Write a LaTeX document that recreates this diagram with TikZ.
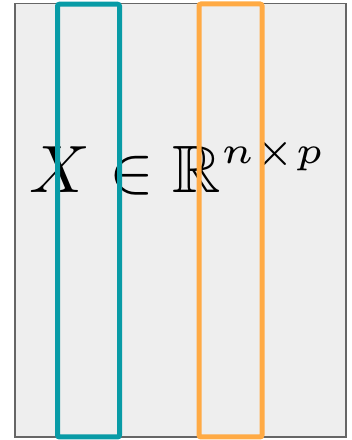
\documentclass[tikz,border=0pt]{standalone}
\usepackage{amsmath}
\usepackage{amssymb}
\usepackage{graphicx}
\usepackage{xcolor}
\usetikzlibrary{positioning}

\definecolor{colteal}{HTML}{089BA6}
\definecolor{colorange}{HTML}{FFAA44}
\definecolor{matfill}{HTML}{EEEEEE}
\definecolor{matline}{HTML}{666666}

\begin{document}
\begin{tikzpicture}[x=1pt, y=1pt,
    matrixbox/.style={draw=matline, fill=matfill, line width=1.5pt},
    colbox/.style={line width=5pt, rounded corners=2pt}
]
    \useasboundingbox (0,0) rectangle (352,440);
    \draw[matrixbox] (15,3) rectangle (346,436.5);
    \node[anchor=base west, inner sep=0pt, scale=6.7] (eq) at (28.5,247)
        {$X \in \mathbb{R}^{\raisebox{0.75pt}{\scalebox{1.13}{$\scriptscriptstyle n\times p$}}}$};
    \draw[colbox, colteal] (57.5,3) rectangle (119.5,435.8);
    \draw[colbox, colorange] (199,3) rectangle (262,436);
\end{tikzpicture}
\end{document}
